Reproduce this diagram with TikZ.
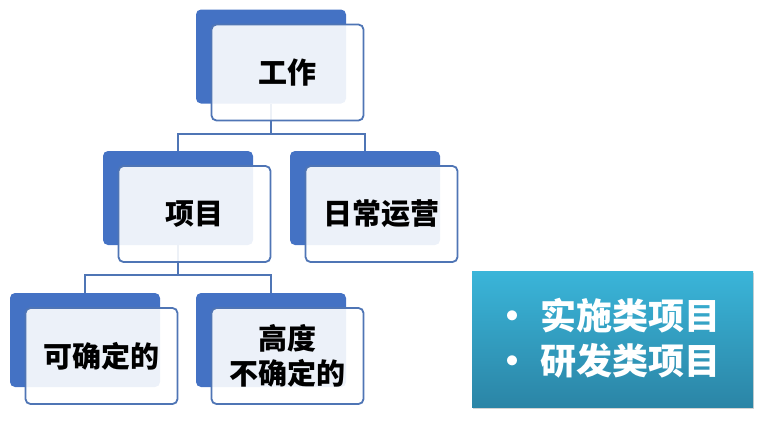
\documentclass[tikz,border=0pt]{standalone}
\usepackage{fontspec}
\newfontfamily\cjk{Noto Sans CJK SC}
\usetikzlibrary{positioning,calc,shadows}
\definecolor{sablue}{HTML}{4472C4}
\definecolor{saline}{HTML}{4F75B5}
\definecolor{tealtop}{HTML}{3AB5D9}
\definecolor{tealbot}{HTML}{2B85A6}
\colorlet{acc}{sablue}

\begin{document}
\begin{tikzpicture}[x=1pt,y=-1pt,
      back/.style={rounded corners=5pt,fill=acc,inner sep=0pt,
                minimum width=150pt,minimum height=94pt},
      front/.style={rounded corners=5pt,draw=saline,line width=1.8pt,
                fill=white,fill opacity=0.9,text opacity=1,inner sep=0pt,
                minimum width=152pt,minimum height=96pt,align=center,
                font=\cjk\bfseries\fontsize{29}{35}\selectfont},
      link/.style={draw=saline,line width=1.8pt}]
    \useasboundingbox (0,0) rectangle (760,445);
    % blue blocks behind
    \foreach \x/\y/\n in {271/56.5/work,178/198/proj,365/198/ops,
                          85/340/sure,271/340/unsure}{
      \node[back] (\n-b) at (\x,\y) {};}
    % tree links
    \draw[link] (work-b.south) -- ++(0,30) -| (proj-b.north);
    \draw[link] (work-b.south) -- ++(0,30) -| (ops-b.north);
    \draw[link] (proj-b.south) -- ++(0,30) -| (sure-b.north);
    \draw[link] (proj-b.south) -- ++(0,30) -| (unsure-b.north);
    % light blocks in front
    \foreach \x/\y/\n/\t in {271/56.5/work/工作,178/198/proj/项目,
                             365/198/ops/日常运营,85/340/sure/可确定的,
                             271/340/unsure/{高度\\不确定的}}{
      \node[front] (\n) at (\x+16.5,\y+16) {\t};}
    % project kinds
    \node[top color=tealtop,bottom color=tealbot,minimum width=281pt,
          minimum height=136pt,inner sep=0pt,
          drop shadow={shadow xshift=1pt,shadow yshift=-2pt,opacity=0.35}]
      (kinds) at (612.5,339) {};
    \node[white,align=left,anchor=west,inner sep=0pt,
          font=\cjk\bfseries\fontsize{36}{45}\selectfont]
      (kindtxt) at (494,338)
      {\makebox[46pt][l]{•}实施类项目\\\makebox[46pt][l]{•}研发类项目};
  \end{tikzpicture}
\end{document}
